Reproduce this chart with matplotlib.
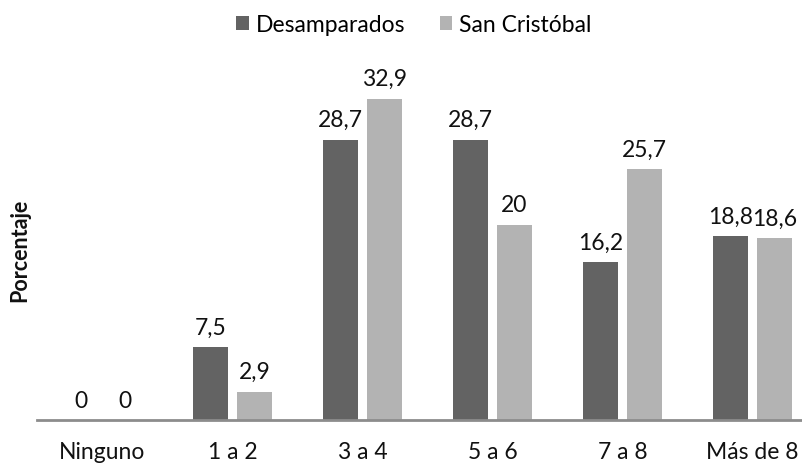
import matplotlib.pyplot as plt
import numpy as np

plt.rcParams['font.family'] = ['Lato', 'DejaVu Sans']

categorias = ['Ninguno', '1 a 2', '3 a 4', '5 a 6', '7 a 8', 'Más de 8']
desamparados = [0, 7.5, 28.7, 28.7, 16.2, 18.8]
san_cristobal = [0, 2.9, 32.9, 20, 25.7, 18.6]

oscuro = '#636363'
claro = '#b3b3b3'

W, H = 803, 465
fig = plt.figure(figsize=(W / 100, H / 100), dpi=100)
ax = fig.add_axes([37.5 / W, 45 / H, 780 / W, 342 / H])

x = np.arange(len(categorias))
ancho = 0.27
off = 0.169

b1 = ax.bar(x - off, desamparados, ancho, color=oscuro, label='Desamparados')
b2 = ax.bar(x + off, san_cristobal, ancho, color=claro, label='San Cristóbal')


def etiqueta(v):
    s = ('%.1f' % v).rstrip('0').rstrip('.')
    return s.replace('.', ',')


for barras, vals in ((b1, desamparados), (b2, san_cristobal)):
    for b, v in zip(barras, vals):
        ax.annotate(etiqueta(v), (b.get_x() + b.get_width() / 2, v),
                    xytext=(0, 6), textcoords='offset points',
                    ha='center', va='bottom', fontsize=16.5, color='#111111')

ax.set_xlim(-0.5, len(categorias) - 0.5)
ax.set_ylim(0, 35)
ax.set_xticks(x)
ax.set_xticklabels(categorias, fontsize=16.5, color='#111111')
ax.tick_params(axis='x', length=0, pad=16)
ax.set_yticks([])
for s in ['top', 'right', 'left']:
    ax.spines[s].set_visible(False)
ax.spines['bottom'].set_color('#8c8c8c')
ax.spines['bottom'].set_linewidth(2)

fig.text(20 / W, 1 - 250 / H, 'Porcentaje', rotation=90, fontsize=15.5,
         fontweight='bold', ha='center', va='center', color='#111111')

fig.legend(handles=[b1, b2], loc='center', bbox_to_anchor=(414 / W, 1 - 25 / H),
           ncol=2, frameon=False, fontsize=16.5, handlelength=0.55,
           handleheight=0.55, handletextpad=0.3, columnspacing=1.5)

fig.savefig('out.png', dpi=100)
